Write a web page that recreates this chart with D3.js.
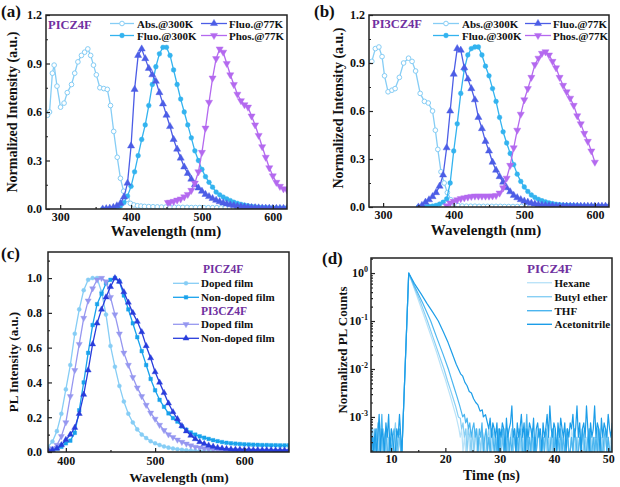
<!DOCTYPE html>
<html><head><meta charset="utf-8">
<script src="https://cdn.jsdelivr.net/npm/d3@7"></script>
<style>
body{margin:0;background:#fff}
svg text{font-family:"Liberation Serif","Times New Roman",serif;font-weight:bold}
</style></head><body>
<svg id="chart" width="620" height="487"></svg>
<script>
// ---------------- Panel (a) PICZ4F ----------------
const absA_x = [282,285,289,291.5,295.5,300.5,305.5,310,316,320.5,325,330,334.5,339,343,347,351,356,361.5,366.5,371,375.5,380.5,385,389.5,394.5,399,404,409,414,419,425,431,437,443,449,455,461,467,473,479,485,491,497,503,509,515,521,527,533,539,545,551,557,563,569,575,581,587,593,599,605,611,617];
const absA_y = [0.58,0.6,0.84,0.89,0.76,0.63,0.655,0.72,0.77,0.84,0.91,0.95,0.97,0.99,0.95,0.89,0.83,0.75,0.745,0.74,0.64,0.48,0.32,0.19,0.11,0.06,0.035,0.025,0.02,0.018,0.016,0.015,0.014,0.013,0.012,0.012,0.011,0.011,0.01,0.01,0.01,0.009,0.009,0.009,0.008,0.008,0.008,0.008,0.007,0.007,0.007,0.007,0.006,0.006,0.006,0.006,0.006,0.005,0.005,0.005,0.005,0.005,0.005,0.005];
const fluoA_x = d3.range(360, 621, 5);
const fluo300A = [0,0,0.002,0.004,0.008,0.018,0.04,0.08,0.14,0.23,0.33,0.43,0.52,0.64,0.77,0.88,0.96,1.0,1.0,0.95,0.86,0.77,0.68,0.6,0.52,0.44,0.36,0.3,0.245,0.2,0.165,0.135,0.105,0.088,0.074,0.062,0.052,0.042,0.035,0.029,0.024,0.019,0.016,0.013,0.011,0.009,0.008,0.007,0.006,0.005,0.005,0.004,0.004];
const fluo77A = [0,0.002,0.005,0.01,0.02,0.035,0.075,0.16,0.39,0.74,0.95,0.99,0.93,0.87,0.83,0.79,0.72,0.65,0.58,0.51,0.43,0.37,0.315,0.26,0.22,0.185,0.15,0.13,0.11,0.09,0.077,0.065,0.054,0.045,0.038,0.032,0.026,0.022,0.018,0.015,0.013,0.011,0.009,0.008,0.007,0.006,0.005,0.005,0.004,0.004,0.004,0.004,0.004];
const phosA_x = [452,455,460,465,470,475,480,485,490,495,500,505,510,515,520,525,530,535,540,545,550,555,560,565,570,575,580,585,590,595,600,605,610,615,620];
const phosA = [0.04,0.042,0.047,0.055,0.062,0.075,0.09,0.115,0.16,0.23,0.35,0.5,0.66,0.81,0.93,0.99,0.97,0.9,0.83,0.77,0.71,0.67,0.645,0.63,0.575,0.52,0.455,0.385,0.32,0.255,0.205,0.165,0.14,0.125,0.118];

// ---------------- Panel (b) PI3CZ4F ----------------
const absB_x = [284,289,294,298.5,302,307,312.5,317,323,329,336,341,346,352.5,358.5,364,370,374,377.5,382,386.5,391,396,401,406,412,418,424,430,436,442,448,454,460,466,472,478,484,490,496,502,508,514,520,526,532,538,544,550,556,562,568,574,580,586,592,598,604,610,616];
const absB_y = [0.91,0.99,1.0,0.94,0.82,0.72,0.73,0.74,0.81,0.9,0.93,0.91,0.85,0.71,0.66,0.65,0.6,0.48,0.36,0.22,0.15,0.09,0.045,0.02,0.01,0.006,0.005,0.005,0.005,0.004,0.004,0.004,0.004,0.004,0.004,0.003,0.003,0.003,0.003,0.003,0.003,0.003,0.003,0.003,0.003,0.003,0.003,0.003,0.003,0.003,0.003,0.003,0.003,0.003,0.003,0.003,0.003,0.003,0.003,0.003];
const fluoB_x = d3.range(350, 621, 5);
const fluo77B = [0,0.01,0.03,0.045,0.065,0.09,0.13,0.2,0.37,0.6,0.83,0.99,0.98,0.87,0.8,0.74,0.67,0.56,0.49,0.41,0.35,0.28,0.23,0.19,0.155,0.12,0.095,0.073,0.058,0.046,0.037,0.03,0.024,0.019,0.015,0.012,0.01,0.008,0.007,0.006,0.005,0.005,0.005,0.005,0.005,0.005,0.005,0.005,0.005,0.005,0.005,0.005,0.005,0.005,0.005];
const fluo300B = [0,0,0.002,0.004,0.006,0.01,0.018,0.03,0.05,0.15,0.35,0.52,0.71,0.86,0.95,0.99,1.0,1.0,0.95,0.88,0.82,0.74,0.66,0.56,0.47,0.4,0.335,0.265,0.205,0.16,0.125,0.097,0.075,0.06,0.048,0.039,0.032,0.026,0.021,0.017,0.014,0.012,0.011,0.01,0.009,0.008,0.007,0.006,0.005,0.005,0.004,0.004,0.004,0.003,0.003];
const phosB_x = d3.range(390, 601, 5);
const phosB = [0.008,0.025,0.035,0.045,0.052,0.057,0.062,0.066,0.068,0.068,0.068,0.068,0.068,0.069,0.072,0.087,0.12,0.18,0.26,0.37,0.48,0.58,0.67,0.74,0.81,0.89,0.93,0.96,0.97,0.95,0.91,0.87,0.81,0.76,0.72,0.68,0.635,0.57,0.52,0.46,0.41,0.35,0.28];

// ---------------- Panel (c) films ----------------
const filmX = d3.range(380, 651, 5);
const dopedPICZ = [0.03,0.06,0.12,0.22,0.36,0.5,0.68,0.82,0.93,0.99,1.0,1.0,0.92,0.79,0.61,0.49,0.38,0.29,0.22,0.17,0.13,0.1,0.08,0.062,0.05,0.04,0.032,0.025,0.02,0.016,0.013,0.01,0.008,0.007,0.006,0.005,0.005,0.005,0.004,0.004,0.004,0.004,0.004,0.003,0.003,0.003,0.003,0.003,0.003,0.003,0.003,0.003,0.003,0.003,0.003];
const nondopedPICZ = [0.01,0.015,0.02,0.03,0.05,0.065,0.11,0.24,0.4,0.57,0.73,0.85,0.91,0.97,0.99,1.0,0.98,0.9,0.82,0.74,0.66,0.58,0.5,0.42,0.355,0.3,0.26,0.222,0.195,0.175,0.147,0.128,0.112,0.1,0.09,0.082,0.075,0.068,0.062,0.057,0.053,0.05,0.048,0.046,0.044,0.043,0.042,0.041,0.04,0.04,0.039,0.039,0.038,0.038,0.038];
const dopedPI3 = [0.01,0.02,0.04,0.09,0.17,0.32,0.47,0.62,0.77,0.87,0.94,0.99,1.0,0.98,0.89,0.79,0.68,0.57,0.5,0.43,0.37,0.32,0.27,0.225,0.19,0.155,0.125,0.1,0.085,0.07,0.057,0.047,0.037,0.029,0.024,0.02,0.017,0.015,0.013,0.011,0.01,0.009,0.009,0.008,0.008,0.007,0.007,0.006,0.006,0.006,0.005,0.005,0.005,0.005,0.005];
const nondopedPI3 = [0.01,0.012,0.02,0.04,0.07,0.1,0.14,0.22,0.33,0.47,0.62,0.74,0.82,0.89,0.95,1.0,0.98,0.92,0.86,0.8,0.75,0.69,0.61,0.54,0.46,0.4,0.34,0.28,0.23,0.19,0.15,0.12,0.095,0.075,0.058,0.047,0.038,0.031,0.025,0.021,0.018,0.016,0.015,0.014,0.013,0.013,0.012,0.012,0.011,0.011,0.011,0.01,0.01,0.01,0.01];

// ---------------- Panel (d) decays (PICZ4F) ----------------
const PEAK_COUNTS = 5300;            // counts at the peak; noise arrays are in counts
const noisePreT = d3.range(6.3, 11.81, 0.25);
const hexPre = [2,0,3,1,2,0,2,3,1,0,2,1,3,0,2,1,2,0,1,3,0,2,1];
const butPre = [1,3,0,2,1,4,0,2,1,3,2,0,1,2,0,3,1,2,4,0,1,2,0];
const thfPre = [3,1,2,0,3,1,0,2,6,1,2,3,0,1,2,0,2,3,1,0,2,3,1];
const acePre = [0,2,1,3,0,2,6,1,3,2,0,4,2,6,1,3,2,0,1,3,2,6,2];
const hexDecT = [12.0,13.25,14.2,15.3,16.4,17.4,18.4,19.33,20.0,20.6,21.0,21.5,22.0];
const hexDec  = [0.00019,1,0.501,0.224,0.1,0.0468,0.0219,0.01,0.00603,0.00355,0.00251,0.00158,0.001];
const butDecT = [12.0,13.25,14.2,15.4,16.7,17.7,18.7,19.75,20.4,20.9,21.4,21.9,22.4];
const butDec  = [0.00019,1,0.525,0.251,0.1,0.0468,0.0219,0.01,0.00562,0.0038,0.00251,0.00166,0.001];
const thfDecT = [12.0,13.25,14.3,15.8,17.3,18.4,19.5,20.55,21.1,21.6,22.1,22.6,23.2];
const thfDec  = [0.00019,1,0.537,0.24,0.1,0.0457,0.0214,0.01,0.00631,0.00417,0.00275,0.00178,0.001];
const aceDecT = [12.0,13.25,14.3,15.5,16.6,17.7,18.7,19.6,20.5,21.0,21.5,22.0,22.4,22.8,23.2,23.6,24.0,24.4,24.8,25.2,25.6,26.0,26.4,26.8,27.0,27.4];
const aceDec  = [0.00019,1,0.603,0.372,0.234,0.151,0.1,0.0603,0.0355,0.0251,0.0178,0.0126,0.01,0.00794,0.00708,0.00525,0.00447,0.00339,0.00316,0.0024,0.002,0.00178,0.00132,0.00141,0.001,0.00112];
const hexPostT = d3.range(22.25, 50.76, 0.25);
const hexPost = [4,3,2,3,1,2,0,3,2,1, 2,0,1,3,0,2,1,0,2,1, 0,3,1,2,0,1,2,0,3,1, 2,0,1,2,3,0,1,2,0,1, 3,0,2,1,0,2,1,3,0,2, 1,0,2,3,1,0,2,1,0,3, 2,1,0,2,1,3,0,1,2,0, 2,1,3,0,2,1,0,2,3,1, 0,2,1,0,3,2,1,0,2,1, 3,0,1,2,0,2,1,3,0,2, 1,0,2,1,3,0,2,1,0,2, 3,1,0,2,1];
const butPostT = d3.range(22.75, 50.76, 0.25);
const butPost = [5,3,4,2,3,1,3,2,0,3, 1,2,3,0,2,1,3,2,0,1, 2,3,1,0,2,3,1,2,0,3, 1,2,0,3,2,1,0,2,3,1, 2,0,1,3,2,0,2,1,3,0, 2,1,0,3,1,2,0,2,3,1, 0,2,1,3,0,2,1,2,0,3, 1,0,2,3,1,2,0,1,3,2, 0,1,2,0,3,1,2,0,2,1, 3,0,2,1,0,3,2,1,0,2, 1,3,0,2,1,2,0,3,1,2, 0,1,2];
const thfPostT = d3.range(23.5, 50.76, 0.25);
const thfPost = [6,4,5,3,4,2,3,4,2,3, 1,3,2,4,0,2,3,1,2,0, 3,2,1,2,0,3,1,2,3,0, 2,1,3,0,2,1,2,3,0,2, 1,3,2,0,1,2,6,1,2,0, 3,1,2,0,2,3,1,0,2,1, 3,2,0,1,2,3,1,2,0,2, 1,3,0,2,1,2,3,0,1,2, 0,3,2,1,0,2,1,3,2,0, 1,2,3,1,0,2,1,2,0,3, 2,1,0,2,3,1,2,0,1,2];
const acePostT = d3.range(27.75, 50.76, 0.25);
const acePost = [4,3,5,2,4,3,2,4,1,3, 2,4,3,1,5,2,3,4,9,2, 3,1,4,2,3,6,2,4,1,3, 2,4,3,2,5,1,3,4,2,3, 1,4,2,3,6,2,9,3,2,4, 3,1,4,2,5,3,2,4,1,3, 2,4,3,6,2,3,9,2,4,1, 3,4,2,9,3,1,4,2,3,9, 2,4,3,1,5,2,4,3,2,6, 3,2,4];

// ---------------- tick labels ----------------
const wlTicksAB = [300,400,500,600];
const intTicksAB = [0,0.3,0.6,0.9,1.2];
const wlTicksC = [400,500,600];
const intTicksC = [0,0.2,0.4,0.6,0.8,1.0];
const timeTicksD = [10,20,30,40,50];
const logTicksD = [1e-3,1e-2,1e-1,1];
const logExpD = ["-3","-2","-1","0"];

// ---------------- colours ----------------
const C = {abs:"#86cdf5", f300:"#33b3ef", f77:"#4c5de6", phos:"#b469ef",
  dPICZ:"#86cdf5", nPICZ:"#18a2ec", dPI3:"#9697f0", nPI3:"#283cdc",
  hex:"#bbe3f8", but:"#88cff4", thf:"#4bb5ef", ace:"#1c9de8", frame:"#222", purple:"#7030a0"};

const svg = d3.select("#chart");

function panel(key, r, xd, yd, log) {
  const x = d3.scaleLinear().domain(xd).range([r.x0, r.x1]);
  const y = (log ? d3.scaleLog() : d3.scaleLinear()).domain(yd).range([r.y1, r.y0]);
  const g = svg.append("g");
  g.append("clipPath").attr("id", "clip-" + key).append("rect")
    .attr("x", r.x0).attr("y", r.y0).attr("width", r.x1 - r.x0).attr("height", r.y1 - r.y0);
  const plot = g.append("g").attr("clip-path", `url(#clip-${key})`);
  return {key, r, x, y, g, plot};
}

function sym(type, size, rot, open) { return {type, size, rot, open}; }

function series(p, xs, ys, color, s, lw) {
  const yMin = p.y.domain()[0];
  const pts = xs.map((v, i) => [v, Math.max(ys[i], yMin)]);
  const line = d3.line().x(d => p.x(d[0])).y(d => p.y(d[1]));
  p.plot.append("path").attr("d", line(pts)).attr("fill", "none")
    .attr("stroke", color).attr("stroke-width", lw || 1.3).attr("stroke-linejoin", "round");
  if (s) {
    p.plot.append("g").selectAll("path").data(pts).join("path")
      .attr("transform", d => `translate(${p.x(d[0])},${p.y(d[1])})` + (s.rot ? " rotate(180)" : ""))
      .attr("d", d3.symbol().type(s.type).size(s.size))
      .attr("fill", s.open ? "#fff" : color).attr("stroke", color).attr("stroke-width", s.open ? 1 : 0.4);
  }
}

function legendItem(g, x0, x1, y, color, s, label, tx, fs, lw) {
  g.append("line").attr("x1", x0).attr("x2", x1).attr("y1", y).attr("y2", y)
    .attr("stroke", color).attr("stroke-width", lw || 1.3);
  if (s) {
    g.append("path").attr("transform", `translate(${(x0 + x1) / 2},${y})` + (s.rot ? " rotate(180)" : ""))
      .attr("d", d3.symbol().type(s.type).size(s.size))
      .attr("fill", s.open ? "#fff" : color).attr("stroke", color).attr("stroke-width", s.open ? 1 : 0.4);
  }
  g.append("text").attr("x", tx).attr("y", y).attr("dominant-baseline", "central")
    .attr("font-size", fs).attr("fill", "#111").text(label);
}

function axes(p, o) {
  const {r, x, y, g} = p;
  const ax = g.append("g");
  ax.append("g").attr("transform", `translate(0,${r.y1})`)
    .call(d3.axisBottom(x).tickValues(o.xt).tickSizeInner(-4).tickSizeOuter(0).tickPadding(o.xpad).tickFormat(d3.format("d")));
  ax.append("g").attr("transform", `translate(0,${r.y1})`)
    .call(d3.axisBottom(x).tickValues(o.xm).tickSizeInner(-2).tickSizeOuter(0).tickFormat(""));
  ax.append("g").attr("transform", `translate(${r.x0},0)`)
    .call(d3.axisLeft(y).tickValues(o.yt).tickSizeInner(-4).tickSizeOuter(0).tickPadding(o.ypad).tickFormat(o.yf || ""));
  ax.append("g").attr("transform", `translate(${r.x0},0)`)
    .call(d3.axisLeft(y).tickValues(o.ym).tickSizeInner(-2).tickSizeOuter(0).tickFormat(""));
  ax.selectAll(".domain").remove();
  ax.selectAll(".tick line").attr("stroke", C.frame).attr("stroke-width", 1.2);
  ax.selectAll(".tick text").attr("font-size", o.fs).attr("fill", "#111");
  g.append("rect").attr("x", r.x0).attr("y", r.y0).attr("width", r.x1 - r.x0).attr("height", r.y1 - r.y0)
    .attr("fill", "none").attr("stroke", C.frame).attr("stroke-width", 1.5);
}

function title(g, txt, x, y, fs, rot, anchor) {
  const t = g.append("text").attr("font-size", fs).attr("fill", "#111").attr("text-anchor", anchor || "middle");
  if (rot) t.attr("transform", `translate(${x},${y}) rotate(-90)`).attr("dominant-baseline", "central");
  else t.attr("x", x).attr("y", y);
  t.text(txt);
  return t;
}

const sOpen = sym(d3.symbolCircle, 17, false, true);
const sCirc = sym(d3.symbolCircle, 18, false, false);
const sTri = sym(d3.symbolTriangle, 22, false, false);
const sTriD = sym(d3.symbolTriangle, 22, true, false);

// ===== (a)
const pa = panel("a", {x0:46, x1:287, y0:15, y1:209}, [280, 620], [0, 1.2]);
series(pa, absA_x, absA_y, C.abs, sOpen);
series(pa, fluoA_x, fluo300A, C.f300, sCirc);
series(pa, fluoA_x, fluo77A, C.f77, sTri);
series(pa, phosA_x, phosA, C.phos, sTriD);
axes(pa, {xt: wlTicksAB, xm: [350,450,550], yt: intTicksAB, ym: [0.15,0.45,0.75,1.05], yf: d3.format(".1f"), xpad: 3, ypad: 4, fs: 12});
title(pa.g, "Normalized Intensity (a.u.)", 12.5, 112, 14, true);
title(pa.g, "Wavelength (nm)", 166, 236, 15);
title(pa.g, "(a)", 1, 17, 17, false, "start");
pa.g.append("text").attr("x", 48).attr("y", 25).attr("dominant-baseline", "central").attr("font-size", 12.5).attr("fill", C.purple).text("PICZ4F");
legendItem(pa.g, 110, 134, 23.5, C.abs, sOpen, "Abs.@300K", 137, 11);
legendItem(pa.g, 110, 134, 35.5, C.f300, sCirc, "Fluo.@300K", 137, 11);
legendItem(pa.g, 201, 227, 23.5, C.f77, sTri, "Fluo.@77K", 229, 11);
legendItem(pa.g, 201, 227, 35.5, C.phos, sTriD, "Phos.@77K", 229, 11);

// ===== (b)
const pb = panel("b", {x0:369, x1:609, y0:15, y1:207}, [280, 620], [0, 1.2]);
series(pb, absB_x, absB_y, C.abs, sOpen);
series(pb, fluoB_x, fluo300B, C.f300, sCirc);
series(pb, fluoB_x, fluo77B, C.f77, sTri);
series(pb, phosB_x, phosB, C.phos, sTriD);
axes(pb, {xt: wlTicksAB, xm: [350,450,550], yt: intTicksAB, ym: [0.15,0.45,0.75,1.05], yf: d3.format(".1f"), xpad: 3, ypad: 4, fs: 12});
title(pb.g, "Normalized Intensity (a.u.)", 338, 108, 14, true);
title(pb.g, "Wavelength (nm)", 486, 235, 15);
title(pb.g, "(b)", 314, 17, 17, false, "start");
pb.g.append("text").attr("x", 372).attr("y", 24).attr("dominant-baseline", "central").attr("font-size", 12.5).attr("fill", C.purple).text("PI3CZ4F");
legendItem(pb.g, 433, 459, 23.5, C.abs, sOpen, "Abs.@300K", 462, 11);
legendItem(pb.g, 433, 459, 35.5, C.f300, sCirc, "Fluo.@300K", 462, 11);
legendItem(pb.g, 525, 551, 23.5, C.f77, sTri, "Fluo.@77K", 553, 11);
legendItem(pb.g, 525, 551, 35.5, C.phos, sTriD, "Phos.@77K", 553, 11);

// ===== (c)
const pc = panel("c", {x0:48, x1:289, y0:252, y1:452}, [380, 650], [0, 1.15]);
const sCircS = sym(d3.symbolCircle, 13, false, false);
const sSq = sym(d3.symbolSquare, 13, false, false);
const sTriS = sym(d3.symbolTriangle, 16, false, false);
const sTriDS = sym(d3.symbolTriangle, 16, true, false);
series(pc, filmX, dopedPICZ, C.dPICZ, sCircS);
series(pc, filmX, nondopedPICZ, C.nPICZ, sSq);
series(pc, filmX, dopedPI3, C.dPI3, sTriDS);
series(pc, filmX, nondopedPI3, C.nPI3, sTriS);
axes(pc, {xt: wlTicksC, xm: [450,550], yt: intTicksC, ym: [0.1,0.3,0.5,0.7,0.9,1.1], yf: d3.format(".1f"), xpad: 4, ypad: 6, fs: 12});
title(pc.g, "PL Intensity (a.u.)", 13, 362, 13, true);
title(pc.g, "Wavelength (nm)", 179, 482, 13.5);
title(pc.g, "(c)", 1, 259, 17, false, "start");
pc.g.append("text").attr("x", 203).attr("y", 269).attr("dominant-baseline", "central").attr("font-size", 11.5).attr("fill", C.purple).text("PICZ4F");
legendItem(pc.g, 173, 199, 283.3, C.dPICZ, sCircS, "Doped film", 201, 11);
legendItem(pc.g, 173, 199, 297.3, C.nPICZ, sSq, "Non-doped film", 201, 11);
pc.g.append("text").attr("x", 201).attr("y", 310.7).attr("dominant-baseline", "central").attr("font-size", 11.5).attr("fill", C.purple).text("PI3CZ4F");
legendItem(pc.g, 173, 199, 324.3, C.dPI3, sTriDS, "Doped film", 201, 11);
legendItem(pc.g, 173, 199, 338.3, C.nPI3, sTriS, "Non-doped film", 201, 11);

// ===== (d)
const pd = panel("d", {x0:371, x1:612, y0:258, y1:452}, [6.3, 50.7], [1.86e-4, 2.06], true);
function decaySeries(preV, decT, decV, postT, postV) {
  const t = [], v = [];
  noisePreT.forEach((tt, i) => { t.push(tt); v.push(preV[i] / PEAK_COUNTS); });
  decT.forEach((tt, i) => { t.push(tt); v.push(decV[i]); });
  postT.forEach((tt, i) => { t.push(tt); v.push(postV[i] / PEAK_COUNTS); });
  return [t, v];
}
const dHex = decaySeries(hexPre, hexDecT, hexDec, hexPostT, hexPost);
const dBut = decaySeries(butPre, butDecT, butDec, butPostT, butPost);
const dThf = decaySeries(thfPre, thfDecT, thfDec, thfPostT, thfPost);
const dAce = decaySeries(acePre, aceDecT, aceDec, acePostT, acePost);
series(pd, dHex[0], dHex[1], C.hex, null, 1.2);
series(pd, dBut[0], dBut[1], C.but, null, 1.2);
series(pd, dThf[0], dThf[1], C.thf, null, 1.2);
series(pd, dAce[0], dAce[1], C.ace, null, 1.2);
const logMinor = [];
[1e-4, 1e-3, 1e-2, 1e-1, 1].forEach(b => [2,3,4,5,6,7,8,9].forEach(m => { const v = b * m; if (v > 1.86e-4 && v < 2.06) logMinor.push(v); }));
axes(pd, {xt: timeTicksD, xm: [15,25,35,45], yt: logTicksD, ym: logMinor, yf: () => "", xpad: 2, ypad: 3, fs: 12});
logTicksD.forEach((v, i) => {
  const t = pd.g.append("text").attr("x", 368).attr("y", pd.y(v) + 4).attr("text-anchor", "end")
    .attr("font-size", 12).attr("fill", "#111");
  t.append("tspan").text("10");
  t.append("tspan").attr("dy", -5).attr("font-size", 8).text(logExpD[i]);
});
title(pd.g, "Normalized PL Counts", 342, 350, 13, true);
title(pd.g, "Time (ns)", 491.5, 480, 14);
title(pd.g, "(d)", 322, 264, 17, false, "start");
pd.g.append("text").attr("x", 527).attr("y", 268.3).attr("dominant-baseline", "central").attr("font-size", 13).attr("fill", C.purple).text("PICZ4F");
legendItem(pd.g, 527, 552, 282.7, C.hex, null, "Hexane", 554.5, 11, 1.4);
legendItem(pd.g, 527, 552, 296.7, C.but, null, "Butyl ether", 554.5, 11, 1.4);
legendItem(pd.g, 527, 552, 310.7, C.thf, null, "THF", 554.5, 11, 1.4);
legendItem(pd.g, 527, 552, 324.3, C.ace, null, "Acetonitrile", 554.5, 11, 1.4);
</script></body></html>
